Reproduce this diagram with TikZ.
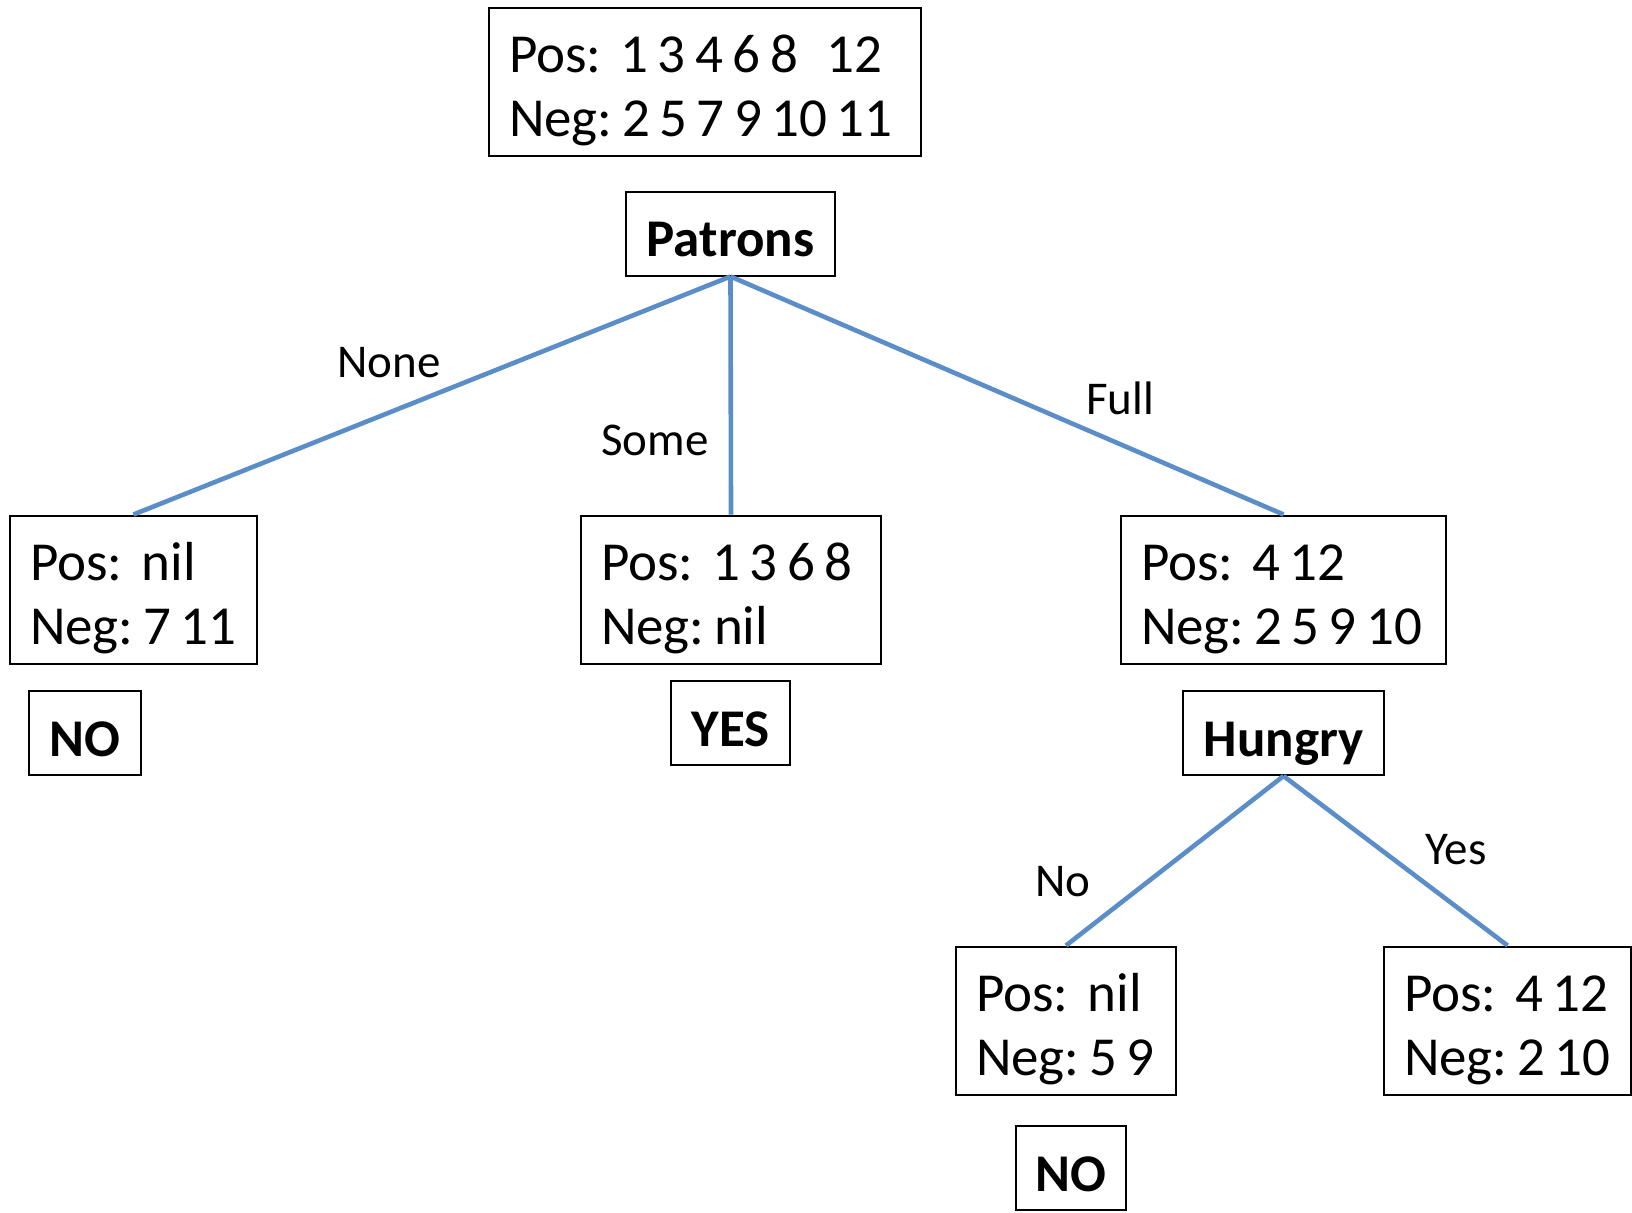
\documentclass[tikz,border=0pt]{standalone}
\usepackage{fontspec}
\setmainfont{Carlito}
\definecolor{lineblue}{RGB}{91,141,200}
\newcommand{\boxfont}{\fontsize{55}{64}\selectfont\frenchspacing}
\newcommand{\decfont}{\fontsize{53}{64}\selectfont\bfseries}
\newcommand{\labfont}{\fontsize{47}{55}\selectfont}
\tikzset{
  databox/.style={draw, line width=2pt, rectangle, inner xsep=20pt, inner ysep=0pt,
    minimum height=148pt, align=left, font=\boxfont},
  decbox/.style={draw, line width=2pt, rectangle, inner sep=0pt, minimum height=84pt,
    text height=52pt, text depth=6pt, font=\decfont},
  lab/.style={anchor=base, inner sep=0pt, font=\labfont},
  branch/.style={line width=4.6pt, draw=lineblue}
}
\newcommand{\fstrut}{\spaceskip=9.5pt\xspaceskip=9.5pt\relax\rule{0pt}{55pt}}
\begin{document}
\begin{tikzpicture}[x=1pt,y=-1pt]
\useasboundingbox (0,0) rectangle (1632,1212);
% data boxes
\node[databox, text width=392pt] (top) at (705,82) {\fstrut Pos:\ \ 1 3 4 6 8\ \ \ 12\\Neg: 2 5 7 9 10 11};
\node[databox, text width=207pt] (b1) at (133.5,589.5) {\fstrut Pos:\ \ nil\\Neg: 7 11};
\node[databox, text width=260pt] (b2) at (731,589.5) {\fstrut Pos:\ \ 1 3 6 8\\Neg: nil};
\node[databox, text width=285pt] (b3) at (1283.5,589.5) {\fstrut Pos:\ \ 4 12\\Neg: 2 5 9 10};
\node[databox, text width=180pt] (b4) at (1066,1020.5) {\fstrut Pos:\ \ nil\\Neg: 5 9};
\node[databox, text width=207pt] (b5) at (1507.5,1020.5) {\fstrut Pos:\ \ 4 12\\Neg: 2 10};
% decision boxes
\node[decbox, minimum width=209pt] (patrons) at (730.5,233.5) {Patrons};
\node[decbox, minimum width=112pt] (no1) at (85,733) {NO};
\node[decbox, minimum width=119pt] (yes) at (730.5,723) {YES};
\node[decbox, minimum width=201pt] (hungry) at (1283.5,733) {Hungry};
\node[decbox, minimum width=110pt] (no2) at (1071,1168) {NO};
% branches
\draw[branch] (patrons.south) -- (b1.north);
\draw[branch] (patrons.south) -- (b2.north);
\draw[branch] (patrons.south) -- (b3.north);
\draw[branch] (hungry.south) -- (b4.north);
\draw[branch] (hungry.south) -- (b5.north);
% branch labels
\node[lab] (lnone) at (389,377) {None};
\node[lab] (lsome) at (655,455) {Some};
\node[lab] (lfull) at (1120,414) {Full};
\node[lab] (lno) at (1063,896) {No};
\node[lab] (lyes) at (1456,864) {Yes};
\end{tikzpicture}
\end{document}
